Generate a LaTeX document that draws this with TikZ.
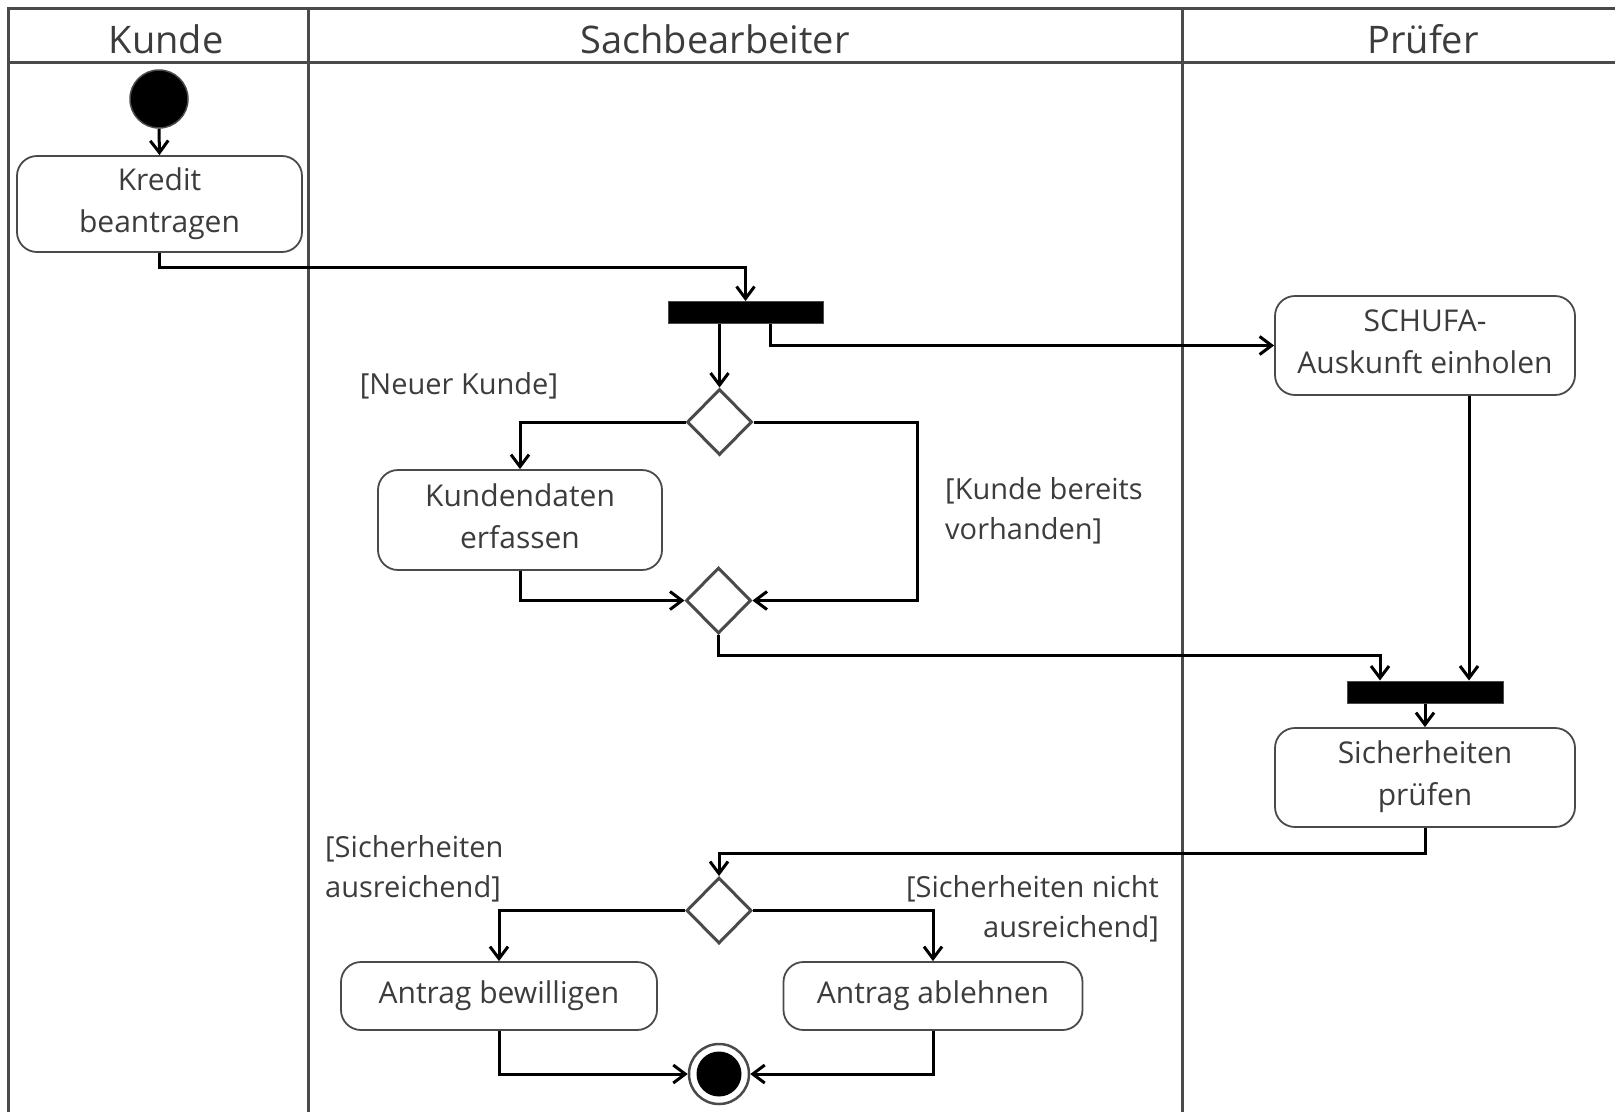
\documentclass[tikz,border=0pt]{standalone}
\usepackage{fontspec}
\setmainfont{Open Sans}
\usetikzlibrary{arrows.meta,shapes.geometric}
\definecolor{lanegray}{HTML}{4A4A4A}
\definecolor{textgray}{HTML}{3C3C3C}
\begin{document}
\begin{tikzpicture}[x=1pt,y=-1pt,
  lane/.style={draw=lanegray,line width=3pt},
  lanehead/.style={text=textgray,font=\fontsize{38}{46}\selectfont,anchor=base,inner sep=0pt},
  action/.style={draw=lanegray,line width=1.8pt,rounded corners=20pt,align=center,
    text=textgray,font=\fontsize{30}{42}\selectfont,inner sep=0pt,text depth=8pt},
  decision/.style={diamond,draw=lanegray,line width=3pt,minimum width=65pt,minimum height=66pt,inner sep=0pt},
  bar/.style={rectangle,fill=black,draw=lanegray,line width=1pt,minimum width=155pt,minimum height=22pt,inner sep=0pt},
  guard/.style={text=textgray,font=\fontsize{29}{40}\selectfont,inner sep=0pt},
  flow/.style={draw=black,line width=3pt,-{Straight Barb[length=12pt,width=18pt]}},
]
\useasboundingbox (0,0) rectangle (1615,1112);

% swimlanes
\draw[lane] (8.5,1112) -- (8.5,8) -- (1615,8);
\draw[lane] (8.5,62) -- (1615,62);
\draw[lane] (308,8) -- (308,1112);
\draw[lane] (1182,8) -- (1182,1112);
\node[lanehead] (hk) at (166,53) {Kunde};
\node[lanehead] (hs) at (715,53) {Sachbearbeiter};
\node[lanehead] (hp) at (1423,53) {Prüfer};

% nodes
\node[circle,fill=black,draw=lanegray,line width=1.5pt,minimum size=58pt,inner sep=0pt] (init) at (159,99) {};
\node[action,minimum width=285pt,minimum height=96pt] (kredit) at (159.5,204) {Kredit\\beantragen};
\node[bar] (fork1) at (745.5,312.5) {};
\node[action,minimum width=300pt,minimum height=99pt] (schufa) at (1425,345.5) {SCHUFA-\\Auskunft einholen};
\node[decision] (dec1) at (719.5,422) {};
\node[action,minimum width=284pt,minimum height=100pt] (kdaten) at (520,520) {Kundendaten\\erfassen};
\node[decision] (merge) at (718.5,600.5) {};
\node[bar,minimum width=156pt] (fork2) at (1425,692) {};
\node[action,minimum width=300pt,minimum height=99pt] (sicher) at (1425,777.5) {Sicherheiten\\prüfen};
\node[decision] (dec3) at (719,910.5) {};
\node[action,minimum width=316pt,minimum height=68pt] (bewillig) at (499,996) {Antrag bewilligen};
\node[action,minimum width=299pt,minimum height=68pt] (ablehn) at (933,996) {Antrag ablehnen};
\node[circle,draw=lanegray,line width=2.5pt,minimum size=60pt,inner sep=0pt] (final) at (719,1074) {};
\node[circle,fill=black,minimum size=45pt,inner sep=0pt] (finalcore) at (final) {};

% guards
\node[guard] (gneu) at (459,386) {[Neuer Kunde]};
\node[guard,align=left,anchor=west] (gvorh) at (945,511) {[Kunde bereits\\vorhanden]};
\node[guard,align=left,anchor=west] (gaus) at (325,869) {[Sicherheiten\\ausreichend]};
\node[guard,align=right,anchor=east] (gnicht) at (1159,909) {[Sicherheiten nicht\\ausreichend]};

% control flow
\draw[flow] (init.south) -- (kredit.north);
\draw[flow] (kredit.south) |- ([yshift=34pt]fork1.north) -- (fork1.north);
\draw[flow] (fork1.south -| dec1.north) -- (dec1.north);
\draw[flow] ([xshift=24.5pt]fork1.south) |- (schufa.west);
\draw[flow] (dec1.west) -| (kdaten.north);
\draw[flow] (dec1.east) -| ([xshift=165pt]merge.east) -- (merge.east);
\draw[flow] (kdaten.south) |- (merge.west);
\draw[flow] (merge.south) -- ++(0,20) -| ([xshift=-45pt]fork2.north);
\draw[flow] ([xshift=44pt]schufa.south) -- ([xshift=44pt]fork2.north);
\draw[flow] (fork2.south) -- (sicher.north);
\draw[flow] (sicher.south) -- ++(0,26) -| (dec3.north);
\draw[flow] (dec3.west) -| (bewillig.north);
\draw[flow] (dec3.east) -| (ablehn.north);
\draw[flow] (bewillig.south) |- (final.west);
\draw[flow] (ablehn.south) |- (final.east);
\end{tikzpicture}
\end{document}
